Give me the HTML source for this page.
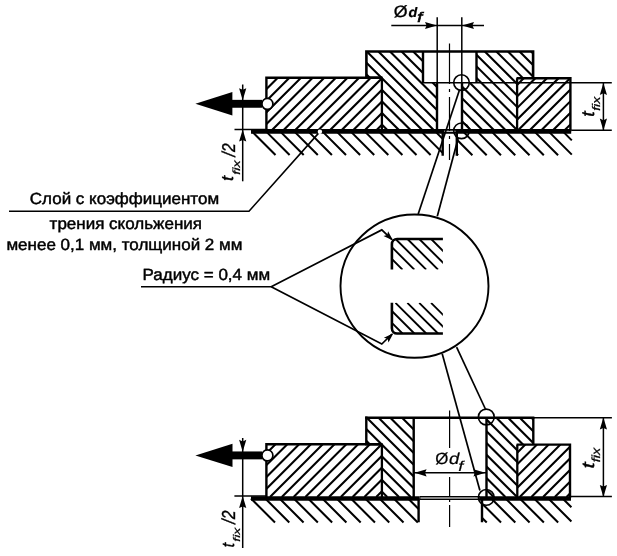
<!DOCTYPE html>
<html><head><meta charset="utf-8"><title>Drawing</title>
<style>html,body{margin:0;padding:0;background:#fff}svg{display:block;will-change:transform;transform:translateZ(0)}text{text-rendering:geometricPrecision}</style></head>
<body><svg width="617" height="556" viewBox="0 0 617 556">
<rect width="617" height="556" fill="#fff"/>
<defs><clipPath id="c1"><polygon points="266.40,77.80 381.90,77.80 381.90,130.30 266.40,130.30"/></clipPath><clipPath id="c2"><polygon points="366.50,51.50 423.00,51.50 423.00,82.20 437.00,82.20 437.00,130.30 381.90,130.30 381.90,77.80 366.50,77.80"/></clipPath><clipPath id="c3"><polygon points="476.50,51.50 533.10,51.50 533.10,78.20 517.20,78.20 517.20,130.30 462.00,130.30 462.00,82.20 476.50,82.20"/></clipPath><clipPath id="c4"><polygon points="517.20,78.20 570.40,78.20 570.40,130.30 517.20,130.30"/></clipPath><clipPath id="c5"><polygon points="391.90,244.20 393.46,240.56 397.10,239.00 442.90,239.00 442.90,269.60 391.90,269.60"/></clipPath><clipPath id="c6"><polygon points="391.90,302.80 442.90,302.80 442.90,333.50 397.10,333.50 393.46,331.94 391.90,328.30"/></clipPath><clipPath id="c7"><polygon points="266.40,444.30 381.90,444.30 381.90,497.00 266.40,497.00"/></clipPath><clipPath id="c8"><polygon points="366.30,417.80 413.70,417.80 413.70,497.00 381.90,497.00 381.90,444.30 366.30,444.30"/></clipPath><clipPath id="c9"><polygon points="486.50,417.80 533.30,417.80 533.30,444.60 517.40,444.60 517.40,497.00 486.50,497.00"/></clipPath><clipPath id="c10"><polygon points="517.40,444.60 570.00,444.60 570.00,497.00 517.40,497.00"/></clipPath></defs>
<path clip-path="url(#c1)" d="M225.30 130.30L277.80 77.80M236.92 130.30L289.42 77.80M248.54 130.30L301.04 77.80M260.16 130.30L312.66 77.80M271.78 130.30L324.28 77.80M283.40 130.30L335.90 77.80M295.02 130.30L347.52 77.80M306.64 130.30L359.14 77.80M318.26 130.30L370.76 77.80M329.88 130.30L382.38 77.80M341.50 130.30L394.00 77.80M353.12 130.30L405.62 77.80M364.74 130.30L417.24 77.80M376.36 130.30L428.86 77.80" stroke="#000" stroke-width="2.1" fill="none"/>
<path clip-path="url(#c2)" d="M297.20 51.50L376.00 130.30M308.80 51.50L387.60 130.30M320.40 51.50L399.20 130.30M332.00 51.50L410.80 130.30M343.60 51.50L422.40 130.30M355.20 51.50L434.00 130.30M366.80 51.50L445.60 130.30M378.40 51.50L457.20 130.30M390.00 51.50L468.80 130.30M401.60 51.50L480.40 130.30M413.20 51.50L492.00 130.30M424.80 51.50L503.60 130.30M436.40 51.50L515.20 130.30" stroke="#000" stroke-width="2.1" fill="none"/>
<path clip-path="url(#c3)" d="M392.16 51.50L470.96 130.30M403.74 51.50L482.54 130.30M415.32 51.50L494.12 130.30M426.90 51.50L505.70 130.30M438.48 51.50L517.28 130.30M450.06 51.50L528.86 130.30M461.64 51.50L540.44 130.30M473.22 51.50L552.02 130.30M484.80 51.50L563.60 130.30M496.38 51.50L575.18 130.30M507.96 51.50L586.76 130.30M519.54 51.50L598.34 130.30M531.12 51.50L609.92 130.30" stroke="#000" stroke-width="2.1" fill="none"/>
<path clip-path="url(#c4)" d="M471.60 130.30L523.70 78.20M483.22 130.30L535.32 78.20M494.84 130.30L546.94 78.20M506.46 130.30L558.56 78.20M518.08 130.30L570.18 78.20M529.70 130.30L581.80 78.20M541.32 130.30L593.42 78.20M552.94 130.30L605.04 78.20M564.56 130.30L616.66 78.20" stroke="#000" stroke-width="2.1" fill="none"/>
<path d="M251.90 131.40L275.50 155.00M266.00 131.40L289.60 155.00M280.10 131.40L303.70 155.00M294.20 131.40L317.80 155.00M308.30 131.40L331.90 155.00M322.40 131.40L346.00 155.00M336.50 131.40L360.10 155.00M350.60 131.40L374.20 155.00M364.70 131.40L388.30 155.00M378.80 131.40L402.40 155.00M392.90 131.40L416.50 155.00M407.00 131.40L430.60 155.00M421.10 131.40L442.60 152.90M435.20 131.40L442.60 138.80" stroke="#000" stroke-width="2.05" fill="none" />
<path d="M457.00 154.08L458.12 155.20M457.00 139.80L472.40 155.20M462.88 131.40L486.68 155.20M477.16 131.40L500.96 155.20M491.44 131.40L515.24 155.20M505.72 131.40L529.52 155.20M520.00 131.40L543.80 155.20M534.28 131.40L558.08 155.20M548.56 131.40L571.80 154.64M562.84 131.40L571.80 140.36" stroke="#000" stroke-width="2.05" fill="none" />
<path d="M266.4 131.30V77.8H382.6" stroke="#000" stroke-width="2.4" fill="none" />
<line x1="381.90" y1="77.80" x2="381.90" y2="131.30" stroke="#000" stroke-width="2.3" />
<path d="M381.9 77.8H366.4V51.45H533.1V78.2" stroke="#000" stroke-width="2.6" fill="none" />
<path d="M423 51.5V82.2M476.5 51.5V82.2" stroke="#000" stroke-width="2.4" fill="none" />
<path d="M437 82.2V131.30M462 82.2V131.30" stroke="#000" stroke-width="2.4" fill="none" />
<path d="M516.5 78.2H570.40V131.30" stroke="#000" stroke-width="2.4" fill="none" />
<line x1="517.10" y1="78.20" x2="517.10" y2="131.30" stroke="#000" stroke-width="2.3" />
<line x1="251.00" y1="131.40" x2="571.20" y2="131.40" stroke="#000" stroke-width="4.6" />
<path d="M442.7 131.40V155.8M456.8 131.40V155.8" stroke="#000" stroke-width="2.4" fill="none" />
<line x1="444.20" y1="131.30" x2="455.40" y2="131.30" stroke="#c8c8c8" stroke-width="1.3" />
<line x1="449.50" y1="43.50" x2="449.50" y2="160.00" stroke="#000" stroke-width="1.2" stroke-dasharray="40.5 5 3 5 34 5 3 5 30"/>
<line x1="437.20" y1="17.30" x2="437.20" y2="82.20" stroke="#000" stroke-width="1.5" />
<line x1="461.80" y1="17.30" x2="461.80" y2="82.20" stroke="#000" stroke-width="1.5" />
<line x1="391.30" y1="25.50" x2="484.00" y2="25.50" stroke="#000" stroke-width="1.5" />
<polygon points="437.00,25.50 425.00,29.10 426.60,25.50 425.00,21.90" fill="#000"/>
<polygon points="462.00,25.50 474.00,21.90 472.40,25.50 474.00,29.10" fill="#000"/>
<line x1="422.00" y1="82.70" x2="611.80" y2="82.70" stroke="#000" stroke-width="1.6" />
<line x1="571.30" y1="130.20" x2="611.80" y2="130.20" stroke="#000" stroke-width="1.5" />
<line x1="603.40" y1="83.00" x2="603.40" y2="130.20" stroke="#000" stroke-width="1.5" />
<polygon points="603.40,82.90 607.00,94.90 603.40,93.30 599.80,94.90" fill="#000"/>
<polygon points="603.40,130.60 599.80,118.60 603.40,120.20 607.00,118.60" fill="#000"/>
<polygon points="195.40,103.80 232.40,92.10 232.40,115.50" fill="#000"/>
<rect x="231.40" y="99.85" width="30.60" height="7.90" fill="#000"/>
<circle cx="267.40" cy="103.90" r="5.50" stroke="#000" stroke-width="1.7" fill="#fff"/>
<line x1="234.50" y1="129.40" x2="266.50" y2="129.40" stroke="#000" stroke-width="1.5" />
<line x1="242.70" y1="84.50" x2="242.70" y2="181.30" stroke="#000" stroke-width="1.5" />
<polygon points="242.70,100.20 239.10,88.20 242.70,89.80 246.30,88.20" fill="#000"/>
<polygon points="242.70,129.60 246.30,141.60 242.70,140.00 239.10,141.60" fill="#000"/>
<circle cx="461.50" cy="82.60" r="7.80" stroke="#000" stroke-width="1.6" fill="none"/>
<circle cx="461.50" cy="130.80" r="7.80" stroke="#000" stroke-width="1.6" fill="none"/>
<line x1="459.30" y1="90.40" x2="418.20" y2="214.00" stroke="#000" stroke-width="1.7" />
<line x1="458.10" y1="138.50" x2="437.30" y2="216.30" stroke="#000" stroke-width="1.7" />
<ellipse cx="414.5" cy="286.1" rx="74" ry="71.6" stroke="#000" stroke-width="1.9" fill="none"/>
<line x1="456.60" y1="347.20" x2="485.40" y2="409.00" stroke="#000" stroke-width="1.7" />
<line x1="442.20" y1="353.70" x2="479.90" y2="490.40" stroke="#000" stroke-width="1.7" />
<path clip-path="url(#c5)" d="M371.88 239.00L402.48 269.60M383.74 239.00L414.34 269.60M395.60 239.00L426.20 269.60M407.46 239.00L438.06 269.60M419.32 239.00L449.92 269.60M431.18 239.00L461.78 269.60" stroke="#000" stroke-width="1.9" fill="none"/>
<path d="M391.90 269.60V244.20A5.20 5.20 0 0 1 397.10 239.00H442.90" stroke="#000" stroke-width="2.6" fill="none" />
<path clip-path="url(#c6)" d="M371.78 302.80L402.48 333.50M383.64 302.80L414.34 333.50M395.50 302.80L426.20 333.50M407.36 302.80L438.06 333.50M419.22 302.80L449.92 333.50M431.08 302.80L461.78 333.50" stroke="#000" stroke-width="1.9" fill="none"/>
<path d="M391.90 302.80V328.30A5.20 5.20 0 0 0 397.10 333.50H442.90" stroke="#000" stroke-width="2.6" fill="none" />
<path d="M271.2 286.7L381.8 229.9L392 239.6" stroke="#000" stroke-width="1.7" fill="none" />
<path d="M271.2 286.7L381.8 344L392 334" stroke="#000" stroke-width="1.7" fill="none" />
<polygon points="393.00,240.60 383.51,236.04 387.24,235.05 388.09,231.29" fill="#000"/>
<polygon points="393.40,333.20 388.49,342.51 387.64,338.75 383.91,337.76" fill="#000"/>
<path clip-path="url(#c7)" d="M222.80 497.00L275.50 444.30M234.60 497.00L287.30 444.30M246.40 497.00L299.10 444.30M258.20 497.00L310.90 444.30M270.00 497.00L322.70 444.30M281.80 497.00L334.50 444.30M293.60 497.00L346.30 444.30M305.40 497.00L358.10 444.30M317.20 497.00L369.90 444.30M329.00 497.00L381.70 444.30M340.80 497.00L393.50 444.30M352.60 497.00L405.30 444.30M364.40 497.00L417.10 444.30M376.20 497.00L428.90 444.30" stroke="#000" stroke-width="2.1" fill="none"/>
<path clip-path="url(#c8)" d="M296.30 417.80L375.50 497.00M308.05 417.80L387.25 497.00M319.80 417.80L399.00 497.00M331.55 417.80L410.75 497.00M343.30 417.80L422.50 497.00M355.05 417.80L434.25 497.00M366.80 417.80L446.00 497.00M378.55 417.80L457.75 497.00M390.30 417.80L469.50 497.00M402.05 417.80L481.25 497.00" stroke="#000" stroke-width="2.1" fill="none"/>
<path clip-path="url(#c9)" d="M414.50 417.80L493.70 497.00M426.20 417.80L505.40 497.00M437.90 417.80L517.10 497.00M449.60 417.80L528.80 497.00M461.30 417.80L540.50 497.00M473.00 417.80L552.20 497.00M484.70 417.80L563.90 497.00M496.40 417.80L575.60 497.00M508.10 417.80L587.30 497.00M519.80 417.80L599.00 497.00M531.50 417.80L610.70 497.00" stroke="#000" stroke-width="2.1" fill="none"/>
<path clip-path="url(#c10)" d="M472.90 497.00L525.30 444.60M484.60 497.00L537.00 444.60M496.30 497.00L548.70 444.60M508.00 497.00L560.40 444.60M519.70 497.00L572.10 444.60M531.40 497.00L583.80 444.60M543.10 497.00L595.50 444.60M554.80 497.00L607.20 444.60M566.50 497.00L618.90 444.60" stroke="#000" stroke-width="2.1" fill="none"/>
<path d="M251.00 498.50L275.00 522.50M265.28 498.50L289.28 522.50M279.56 498.50L303.56 522.50M293.84 498.50L317.84 522.50M308.12 498.50L332.12 522.50M322.40 498.50L346.40 522.50M336.68 498.50L360.68 522.50M350.96 498.50L374.96 522.50M365.24 498.50L389.24 522.50M379.52 498.50L403.52 522.50M393.80 498.50L417.80 522.50M408.08 498.50L418.60 509.02" stroke="#000" stroke-width="2.05" fill="none" />
<path d="M482.20 517.96L486.74 522.50M482.20 503.68L501.02 522.50M491.30 498.50L515.30 522.50M505.58 498.50L529.58 522.50M519.86 498.50L543.86 522.50M534.14 498.50L558.14 522.50M548.42 498.50L571.40 521.48M562.70 498.50L571.40 507.20" stroke="#000" stroke-width="2.05" fill="none" />
<path d="M266.4 498.00V444.30H382.6" stroke="#000" stroke-width="2.4" fill="none" />
<line x1="381.90" y1="444.30" x2="381.90" y2="498.00" stroke="#000" stroke-width="2.3" />
<path d="M381.9 444.30H366.3V416.55" stroke="#000" stroke-width="2.4" fill="none" />
<line x1="365.20" y1="417.80" x2="534.40" y2="417.80" stroke="#000" stroke-width="2.5" />
<line x1="533.30" y1="417.80" x2="533.30" y2="444.60" stroke="#000" stroke-width="2.4" />
<path d="M413.7 417.80V498.00M486.5 417.80V498.00" stroke="#000" stroke-width="2.4" fill="none" />
<path d="M516.6 444.60H570.00V498.00" stroke="#000" stroke-width="2.4" fill="none" />
<line x1="517.30" y1="444.60" x2="517.30" y2="498.00" stroke="#000" stroke-width="2.3" />
<line x1="251.00" y1="498.50" x2="419.60" y2="498.50" stroke="#000" stroke-width="4.5" />
<line x1="480.00" y1="498.50" x2="571.00" y2="498.50" stroke="#000" stroke-width="4.5" />
<line x1="419.60" y1="498.10" x2="480.00" y2="498.10" stroke="#000" stroke-width="4.0" />
<line x1="420.40" y1="498.10" x2="479.20" y2="498.10" stroke="#b4b4b4" stroke-width="1.5" />
<path d="M418.6 498.50V522.3M482.0 498.50V522.3" stroke="#000" stroke-width="2.4" fill="none" />
<line x1="449.60" y1="410.50" x2="449.60" y2="448.00" stroke="#000" stroke-width="1.2" />
<line x1="449.60" y1="477.00" x2="449.60" y2="527.00" stroke="#000" stroke-width="1.2" stroke-dasharray="19 3 3 3 40"/>
<line x1="413.70" y1="472.80" x2="486.40" y2="472.80" stroke="#000" stroke-width="1.5" />
<polygon points="414.60,472.80 426.60,469.20 425.00,472.80 426.60,476.40" fill="#000"/>
<polygon points="485.40,472.80 473.40,476.40 475.00,472.80 473.40,469.20" fill="#000"/>
<line x1="533.30" y1="417.80" x2="611.90" y2="417.80" stroke="#000" stroke-width="1.5" />
<line x1="571.00" y1="496.60" x2="611.90" y2="496.60" stroke="#000" stroke-width="1.5" />
<line x1="603.40" y1="417.80" x2="603.40" y2="496.50" stroke="#000" stroke-width="1.5" />
<polygon points="603.40,417.50 607.00,429.50 603.40,427.90 599.80,429.50" fill="#000"/>
<polygon points="603.40,496.90 599.80,484.90 603.40,486.50 607.00,484.90" fill="#000"/>
<polygon points="195.40,455.40 232.50,443.70 232.50,467.10" fill="#000"/>
<rect x="231.50" y="451.45" width="30.50" height="7.90" fill="#000"/>
<circle cx="267.40" cy="455.40" r="5.50" stroke="#000" stroke-width="1.7" fill="#fff"/>
<line x1="234.40" y1="495.90" x2="266.40" y2="495.90" stroke="#000" stroke-width="1.5" />
<line x1="242.70" y1="438.00" x2="242.70" y2="548.00" stroke="#000" stroke-width="1.5" />
<polygon points="242.70,451.80 239.10,439.80 242.70,441.40 246.30,439.80" fill="#000"/>
<polygon points="242.70,496.00 246.30,508.00 242.70,506.40 239.10,508.00" fill="#000"/>
<circle cx="486.30" cy="417.00" r="7.90" stroke="#000" stroke-width="1.6" fill="none"/>
<circle cx="486.30" cy="497.40" r="7.90" stroke="#000" stroke-width="1.6" fill="none"/>
<path d="M9 211.2H249L318.6 133.1" stroke="#000" stroke-width="1.6" fill="none" />
<circle cx="319.90" cy="131.70" r="2.20" stroke="#000" stroke-width="0" fill="#fff"/>
<line x1="141.00" y1="286.70" x2="271.20" y2="286.70" stroke="#000" stroke-width="1.5" />
<text transform="translate(29.80 204.00) scale(1.05 1)" font-size="16.2" stroke="#000" stroke-width="0.45" stroke-linejoin="round" font-family="'Liberation Sans',sans-serif" >Слой с коэффициентом</text>
<text transform="translate(49.60 228.80) scale(1.05 1)" font-size="16.2" stroke="#000" stroke-width="0.45" stroke-linejoin="round" font-family="'Liberation Sans',sans-serif" >трения скольжения</text>
<text transform="translate(6.40 250.30) scale(1.05 1)" font-size="16.2" stroke="#000" stroke-width="0.45" stroke-linejoin="round" font-family="'Liberation Sans',sans-serif" >менее 0,1 мм, толщиной 2 мм</text>
<text transform="translate(142.60 280.30) scale(1.05 1)" font-size="16.2" stroke="#000" stroke-width="0.45" stroke-linejoin="round" font-family="'Liberation Sans',sans-serif" >Радиус = 0,4 мм</text>
<g>
<text transform="translate(233.23 180.90) rotate(-90) scale(1.130 1.051)" font-size="16" font-style="italic" font-weight="normal" stroke="#000" stroke-width="0.35" font-family="'Liberation Sans',sans-serif">t</text>
<text transform="translate(240.40 174.67) rotate(-90) scale(0.893 0.651)" font-size="16" font-style="italic" font-weight="normal" stroke="#000" stroke-width="0.35" font-family="'Liberation Sans',sans-serif">fix</text>
<text transform="translate(234.60 156.42) rotate(-90) scale(0.970 1.156)" font-size="16" font-style="italic" font-weight="normal" stroke="#000" stroke-width="0.35" font-family="'Liberation Sans',sans-serif">/2</text>
</g><g>
<text transform="translate(593.82 116.86) rotate(-90) scale(1.202 1.117)" font-size="16" font-style="italic" font-weight="normal" stroke="#000" stroke-width="0.35" font-family="'Liberation Sans',sans-serif">t</text>
<text transform="translate(599.60 110.87) rotate(-90) scale(0.886 0.693)" font-size="16" font-style="italic" font-weight="normal" stroke="#000" stroke-width="0.35" font-family="'Liberation Sans',sans-serif">fix</text>
</g><g>
<text transform="translate(593.83 468.40) rotate(-90) scale(1.370 1.080)" font-size="16" font-style="italic" font-weight="normal" stroke="#000" stroke-width="0.35" font-family="'Liberation Sans',sans-serif">t</text>
<text transform="translate(599.60 462.18) rotate(-90) scale(0.899 0.736)" font-size="16" font-style="italic" font-weight="normal" stroke="#000" stroke-width="0.35" font-family="'Liberation Sans',sans-serif">fix</text>
</g><g>
<text transform="translate(233.63 547.43) rotate(-90) scale(1.034 1.070)" font-size="16" font-style="italic" font-weight="normal" stroke="#000" stroke-width="0.35" font-family="'Liberation Sans',sans-serif">t</text>
<text transform="translate(240.30 541.66) rotate(-90) scale(0.874 0.608)" font-size="16" font-style="italic" font-weight="normal" stroke="#000" stroke-width="0.35" font-family="'Liberation Sans',sans-serif">fix</text>
<text transform="translate(235.00 523.71) rotate(-90) scale(0.984 1.173)" font-size="16" font-style="italic" font-weight="normal" stroke="#000" stroke-width="0.35" font-family="'Liberation Sans',sans-serif">/2</text>
</g><g>
<text transform="translate(393.79 17.17) scale(1.107 1.022)" font-size="16" font-style="normal" font-weight="normal" stroke="#000" stroke-width="0.35" font-family="'Liberation Sans',sans-serif">Ø</text>
<text transform="translate(408.57 16.66) scale(0.896 0.861)" font-size="16" font-style="italic" font-weight="bold" stroke="#000" stroke-width="0.2" font-family="'Liberation Sans',sans-serif">d</text>
<text transform="translate(417.17 22.04) scale(1.133 0.868)" font-size="16" font-style="italic" font-weight="normal" stroke="#000" stroke-width="0.7" font-family="'Liberation Sans',sans-serif">f</text>
</g><g>
<text transform="translate(435.13 464.48) scale(1.054 1.014)" font-size="16" font-style="normal" font-weight="normal" stroke="#000" stroke-width="0.2" font-family="'Liberation Sans',sans-serif">Ø</text>
<text transform="translate(448.94 464.44) scale(1.159 0.997)" font-size="16" font-style="italic" font-weight="normal" stroke="#000" stroke-width="0.2" font-family="'Liberation Sans',sans-serif">d</text>
<text transform="translate(458.27 470.74) scale(1.133 0.885)" font-size="16" font-style="italic" font-weight="normal" stroke="#000" stroke-width="0.2" font-family="'Liberation Sans',sans-serif">f</text>
</g>
</svg></body></html>
